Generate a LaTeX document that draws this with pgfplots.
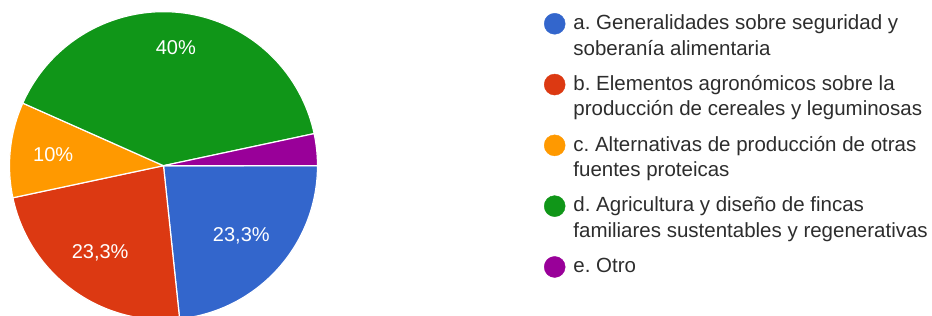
\documentclass[border=0pt]{standalone}
\usepackage{pgfplots}
\usepackage{pgfplotstable}
\pgfplotsset{compat=1.18}
\usepackage{fontspec}
\setmainfont{Liberation Sans}
\frenchspacing
\definecolor{gblue}{HTML}{3366CC}
\definecolor{gred}{HTML}{DC3912}
\definecolor{gorange}{HTML}{FF9900}
\definecolor{ggreen}{HTML}{109618}
\definecolor{gpurple}{HTML}{990099}
\definecolor{legtext}{HTML}{2D2D2D}
\newcommand\legfont{\fontsize{20.5pt}{25.5pt}\selectfont\frenchspacing}
\tikzset{pielabel/.style={text=white, inner sep=0pt, font=\fontsize{20pt}{24pt}\selectfont}}

\pgfplotstableread[col sep=semicolon]{
key;value;lr;color;label
a;23.33;0.68;gblue;23,3\%
b;23.33;0.70;gred;23,3\%
c;10;0.72;gorange;10\%
d;40;0.77;ggreen;40\%
e;3.33;0;gpurple;3,3\%
}\piedata

\begin{document}
\begin{tikzpicture}[x=1pt,y=1pt]
\path[use as bounding box] (0,0) rectangle (932,316);
\begin{axis}[
  at={(163.5pt,150.3pt)}, anchor=center,
  width=308pt, height=308pt, scale only axis,
  xmin=-1, xmax=1, ymin=-1, ymax=1,
  hide axis, clip=false,
  legend cell align=left,
  legend style={at={(axis cs:2.4708,1.0045)}, anchor=north west,
    draw=none, fill=none, inner sep=0pt, outer sep=0pt,
    row sep=0pt, column sep=8pt, font=\legfont, text=legtext,
    nodes={inner sep=0pt, outer sep=0pt, text height=18.5pt, text depth=7pt}},
  legend image code/.code={\fill (10.5pt,0pt) circle[radius=10.5pt];},
]
\def\startang{0}
\pgfplotsforeachungrouped \rowidx in {0,...,4}{%
  \pgfplotstablegetelem{\rowidx}{value}\of\piedata \let\sliceval\pgfplotsretval
  \pgfplotstablegetelem{\rowidx}{color}\of\piedata \let\slicecol\pgfplotsretval
  \pgfplotstablegetelem{\rowidx}{lr}\of\piedata \let\slicelr\pgfplotsretval
  \pgfplotstablegetelem{\rowidx}{label}\of\piedata \let\slicelab\pgfplotsretval
  \pgfmathsetmacro\endang{\startang-3.6*\sliceval}
  \pgfmathsetmacro\midang{(\startang+\endang)/2}
  \pgfmathsetmacro\sx{cos(\startang)}
  \pgfmathsetmacro\sy{sin(\startang)}
  \pgfmathsetmacro\lx{\slicelr*cos(\midang)}
  \pgfmathsetmacro\ly{\slicelr*sin(\midang)}
  \edef\cmd{\noexpand\fill[\slicecol, draw=white, line width=1.2pt, line join=round] (axis cs:0,0) -- (axis cs:\sx,\sy) arc[start angle=\startang, end angle=\endang, radius=154pt] -- cycle;}%
  \cmd
  \ifdim\slicelr pt>0pt
    \edef\cmd{\noexpand\node[pielabel] at (axis cs:\lx,\ly) {\unexpanded\expandafter{\slicelab}};}%
    \cmd
  \fi
  \global\let\startang\endang
}
\addlegendimage{gblue}
\addlegendentry{a. Generalidades sobre seguridad y}
\addlegendimage{empty legend}
\addlegendentry[text depth=16.8pt]{soberanía alimentaria}
\addlegendimage{gred}
\addlegendentry{b. Elementos agronómicos sobre la}
\addlegendimage{empty legend}
\addlegendentry[text depth=16.8pt]{producción de cereales y leguminosas}
\addlegendimage{gorange}
\addlegendentry{c. Alternativas de producción de otras}
\addlegendimage{empty legend}
\addlegendentry[text depth=16.8pt]{fuentes proteicas}
\addlegendimage{ggreen}
\addlegendentry{d. Agricultura y diseño de fincas}
\addlegendimage{empty legend}
\addlegendentry[text depth=16.8pt]{familiares sustentables y regenerativas}
\addlegendimage{gpurple}
\addlegendentry{e. Otro}
\end{axis}
\end{tikzpicture}
\end{document}
